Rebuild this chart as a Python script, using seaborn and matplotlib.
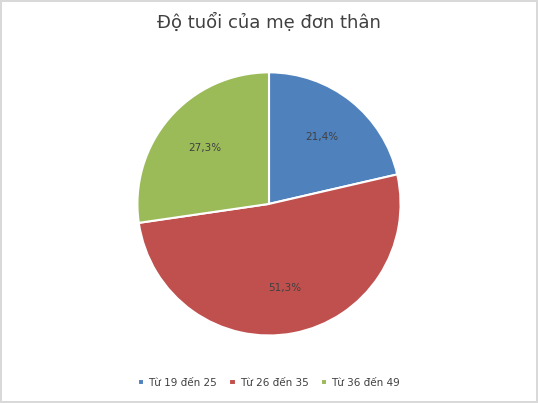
import matplotlib
matplotlib.use("Agg")
import matplotlib.pyplot as plt
import seaborn as sns
import numpy as np

sns.set_theme(style="white")
plt.rcParams['font.family'] = ['DejaVu Sans']

categories = ["Từ 19 đến 25", "Từ 26 đến 35", "Từ 36 đến 49"]
values = [21.4, 51.3, 27.3]
colors = ["#4F81BD", "#C0504D", "#9BBB59"]

fig = plt.figure(figsize=(5.38, 4.03), dpi=100)
fig.patch.set_edgecolor("#D9D9D9")
fig.patch.set_linewidth(1.5)
ax = fig.add_axes([0.253, 0.164, 0.494, 0.66])
wedges, texts = ax.pie(values, colors=colors, startangle=90, counterclock=False,
                       wedgeprops=dict(edgecolor="white", linewidth=1.5))
for w, v in zip(wedges, values):
    ang = np.deg2rad((w.theta1 + w.theta2) / 2)
    ax.text(0.65 * np.cos(ang), 0.65 * np.sin(ang), f"{v:.1f}%".replace(".", ","),
            ha="center", va="center", fontsize=7.5, color="#404040")
ax.set_xlim(-1.01, 1.01)
ax.set_ylim(-1.01, 1.01)
ax.set_aspect("equal")
fig.text(0.5, 0.945, "Độ tuổi của mẹ đơn thân", ha="center", va="center", fontsize=13, color="#404040")
fig.legend(wedges, categories, loc="center", bbox_to_anchor=(0.5, 0.05), ncol=3,
           frameon=False, fontsize=7.5, handlelength=0.6, handleheight=0.6, columnspacing=1.2,
           handletextpad=0.4, labelcolor="#404040")
fig.savefig("out.png", dpi=100, edgecolor=fig.get_edgecolor())
